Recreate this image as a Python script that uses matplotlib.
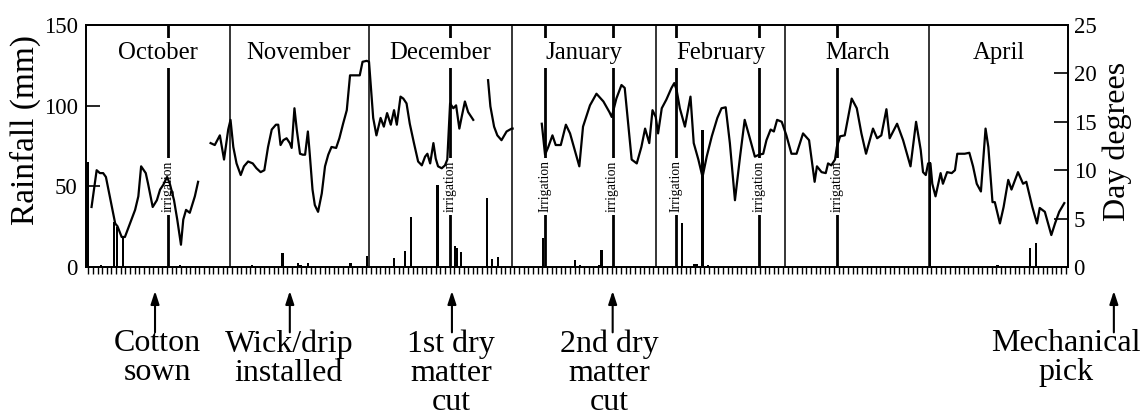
import numpy as np
import matplotlib
matplotlib.use('Agg')
import matplotlib.pyplot as plt
from matplotlib.transforms import blended_transform_factory

# ---------------- data ----------------
month_names = ['October', 'November', 'December', 'January', 'February', 'March', 'April']
month_edges = [0, 31, 61, 92, 123, 151, 182, 212]   # day number of month starts (Oct 1 = 0)

# daily rainfall (mm)
rain_day = [0.3, 3.2, 6.0, 6.7, 8.0, 20.3, 35.8, 42.4, 45.7, 46.3, 48.0, 57.1, 60.7,
            66.5, 68.9, 70.1, 75.9, 79.6, 80.1, 80.9, 86.6, 87.7, 88.9,
            98.6, 105.5, 106.6, 110.8, 111.3, 128.6, 131.3, 131.8, 133.1, 134.3,
            182.2, 196.8, 203.8, 205.1]
rain_mm = [65, 1.5, 28, 25, 18.8, 1.5, 1.2, 8.5, 2.7, 1.2, 2.7, 2.7, 6.8,
           5.4, 10.1, 31.2, 50.8, 13, 11.6, 9.5, 42.6, 4.7, 6.4,
           17.8, 4.3, 1.5, 1.0, 10.5, 27, 2, 2, 85, 1,
           65, 1, 11.6, 15]

# day degrees (NaN = missing record)
dd_day = [1.2, 2.3, 3.0, 3.7, 4.3, 6.3, 6.8, 7.7, 8.4, 9.5, 10.6, 11.3, 11.9, 12.9, 13.4,
          14.4, 15.3, 16.0, 16.7, 17.5, 18.1, 19.0, 19.7, 20.5, 21.0, 21.6, 22.4, 23.5, 24.2,
          25.5,
          26.9, 27.8, 28.9, 29.8, 30.7, 31.2, 31.8, 32.5, 33.4, 34.1, 35.0, 36.0, 36.8, 37.7,
          38.5, 39.3, 40.1, 41.0, 41.5, 42.0, 42.6, 43.3, 44.0, 44.4, 45.0, 45.5, 46.2, 46.8,
          47.3, 47.9, 48.3, 48.9, 49.4, 50.1, 50.9, 51.6, 52.3, 53.0, 54.0, 54.7, 55.5, 56.3,
          57.0, 58.1, 59.1, 59.7, 60.6, 61.1, 62.0, 62.7, 63.6, 64.3, 65.0, 65.8, 66.5, 67.1,
          67.9, 68.5, 69.2, 69.9, 70.8, 71.7, 72.5, 73.2, 73.7, 74.3, 75.0, 75.5, 76.0, 76.8,
          77.5, 78.0, 78.6, 79.3, 79.9, 80.6, 81.1, 81.8, 82.5, 83.6,
          85.0,
          86.8, 87.3, 88.1, 88.8, 89.7, 90.8, 91.9, 92.1,
          95.0,
          98.4, 99.1, 99.8, 100.7, 101.4, 102.5, 103.6, 104.5, 105.5, 106.5, 107.3, 108.8,
          110.2, 111.7, 113.0, 113.5, 114.5, 115.6, 116.3, 117.1, 117.8, 118.9, 119.9, 120.7,
          121.6, 122.3, 123.0, 123.5, 124.3, 125.3, 126.4, 127.0, 127.5, 128.2, 129.3, 130.5,
          131.2, 132.2, 133.1, 134.0, 135.1, 136.3, 137.2, 138.1, 139.0, 140.1, 141.2, 142.2,
          143.2, 144.4, 145.3, 146.2, 146.9, 147.8, 148.5, 149.2, 150.2, 151.2, 152.3, 153.4,
          154.8, 156.1, 157.3, 157.8, 158.8, 159.7, 160.2, 160.9, 161.7, 162.1, 162.8, 163.8,
          165.3, 166.4, 167.4, 168.4, 169.9, 170.8, 171.7, 172.8, 173.5, 175.1, 176.4, 178.0,
          179.2, 180.2, 180.7, 181.3, 181.8, 182.3, 182.7, 183.4, 184.5, 185.0, 185.9, 186.9,
          187.6, 188.1, 189.0, 189.7, 190.7, 191.5, 192.3, 193.2, 194.2, 194.8, 195.7, 196.2,
          197.3, 198.1, 199.1, 199.8, 201.2, 202.3, 203.0, 204.3, 205.3, 205.9, 207.0, 207.7,
          208.4, 209.2, 210.1, 211.2]
dd_val = [6.2, 10.0, 9.7, 9.7, 9.3, 4.5, 4.2, 3.1, 3.1, 4.5, 5.9, 7.3, 10.4, 9.7, 8.6,
          6.2, 6.9, 8.0, 8.5, 9.3, 8.6, 6.9, 4.9, 2.3, 4.9, 5.9, 5.6, 7.3, 8.8,
          np.nan,
          12.8, 12.6, 13.6, 11.1, 14.2, 15.2, 12.4, 10.7, 9.5, 10.4, 10.9, 10.7, 10.2, 9.8,
          10.0, 12.4, 14.2, 14.7, 14.7, 12.6, 13.1, 13.3, 12.8, 12.3, 16.4, 14.2, 11.7, 11.6,
          11.6, 14.0, 11.7, 8.0, 6.4, 5.7, 7.6, 10.4, 11.6, 12.4, 12.3, 13.3, 14.8, 16.2,
          19.8, 19.8, 19.8, 21.2, 21.3, 21.2, 15.4, 13.6, 15.4, 14.5, 15.9, 14.7, 16.2, 14.7,
          17.6, 17.4, 16.9, 14.8, 12.8, 10.9, 10.5, 11.4, 11.7, 10.7, 12.8, 11.2, 10.4, 10.2,
          10.5, 11.1, 16.9, 16.4, 16.7, 14.3, 15.5, 17.1, 16.0, 15.2,
          np.nan,
          19.3, 16.6, 14.5, 13.6, 13.1, 14.0, 14.3, 14.3,
          np.nan,
          14.8, 11.6, 12.4, 13.6, 12.6, 12.6, 14.7, 13.8, 12.1, 10.4, 14.5, 16.7,
          17.9, 17.1, 16.0, 15.5, 17.4, 18.8, 18.5, 14.5, 11.1, 10.7, 12.4, 14.3,
          12.8, 16.2, 15.5, 13.8, 16.4, 17.3, 18.5, 19.0, 18.3, 16.4, 14.5, 17.6,
          12.8, 11.1, 9.3, 11.4, 13.5, 15.4, 16.4, 16.5, 12.8, 6.9, 11.4, 15.2,
          13.5, 11.4, 11.6, 11.7, 13.1, 14.2, 14.0, 15.2, 15.0, 13.6, 11.7, 11.7,
          13.8, 13.1, 8.8, 10.4, 9.8, 9.7, 10.7, 10.5, 11.1, 12.4, 13.5, 13.6,
          17.4, 16.4, 13.8, 11.7, 14.3, 13.3, 13.6, 16.3, 13.3, 14.8, 13.1, 10.4,
          15.0, 12.1, 9.8, 9.5, 10.7, 10.7, 8.6, 7.3, 9.7, 8.6, 9.8, 9.7,
          10.0, 11.7, 11.7, 11.7, 11.8, 10.4, 8.6, 7.8, 14.3, 12.4, 6.7, 6.7,
          4.5, 6.2, 9.0, 8.0, 9.8, 8.6, 8.8, 6.2, 4.5, 6.1, 5.7, 4.5,
          3.3, 4.5, 5.7, 6.6]

irr_day = [17.7, 78.6, 99.1, 113.7, 127.3, 145.3, 162.1]
irr_label = ['irrigation', 'irrigation', 'Irrigation', 'irrigation',
             'Irrigation', 'irrigation', 'irrigation']

ann_text = ['Cotton\nsown', 'Wick/drip\ninstalled', '1st dry\nmatter\ncut',
            '2nd dry\nmatter\ncut', 'Mechanical\npick']
ann_text_day = [15.5, 43.8, 78.8, 112.9, 211.5]
ann_arrow_day = [14.9, 44.0, 79.0, 113.7, 221.9]

# ---------------- plot ----------------
plt.rcParams['font.family'] = ['Liberation Serif', 'DejaVu Serif']

W, H = 1147, 417
fig = plt.figure(figsize=(W / 100, H / 100), dpi=100)
ax = fig.add_axes([86 / W, 1 - 267 / H, 982 / W, 242 / H])
ax2 = ax.twinx()

ax.set_xlim(month_edges[0], month_edges[-1])
ax.set_ylim(0, 150)
ax2.set_ylim(0, 25)

trans = blended_transform_factory(ax.transData, ax.transAxes)

# rainfall bars
ax.bar(rain_day, rain_mm, width=0.5, color='black', zorder=3)

# month separators
for d in month_edges[1:-1]:
    ax.axvline(d, color='black', lw=1.1, zorder=2)

# irrigation lines
for d, lab in zip(irr_day, irr_label):
    ax.axvline(d, color='black', lw=2.0, zorder=2)
    ax.text(d, 50, lab, rotation=90, ha='center', va='center', fontsize=9.8,
            bbox=dict(facecolor='white', edgecolor='none', pad=2.0), zorder=5)

# day degree line
ax2.plot(dd_day, dd_val, color='black', lw=1.6, zorder=3)

# month labels
for i, name in enumerate(month_names):
    c = 0.5 * (month_edges[i] + month_edges[i + 1])
    ax2.text(c, 0.884, name, transform=trans, ha='center', va='center', fontsize=17.8,
             bbox=dict(facecolor='white', edgecolor='none', pad=3.0), zorder=6)

# axes styling
for a in (ax, ax2):
    for s in a.spines.values():
        s.set_linewidth(1.3)

ax.set_yticks([0, 50, 100, 150])
ax.tick_params(axis='y', direction='in', length=10, width=1.2, labelsize=16.5, pad=6)
ax2.set_yticks([0, 5, 10, 15, 20, 25])
ax2.tick_params(axis='y', direction='in', length=10, width=1.2, labelsize=16.5, pad=4)

ax.set_xticks(np.arange(0.5, month_edges[-1], 1.0))
ax.tick_params(axis='x', direction='out', length=5, width=1.0, labelbottom=False)

ax.set_ylabel('Rainfall (mm)', fontsize=24)
ax.yaxis.set_label_coords(-0.046, 0.566)
ax2.set_ylabel('Day degrees', fontsize=23)
ax2.yaxis.set_label_coords(1.035, 0.517)

# event annotations
for txt, td, adx in zip(ann_text, ann_text_day, ann_arrow_day):
    ax.text(td, -0.258, txt, transform=trans, ha='center', va='top', fontsize=23,
            linespacing=1.0, clip_on=False)
    ax.annotate('', xy=(adx, -0.099), xytext=(adx, -0.27), xycoords=trans,
                textcoords=trans, annotation_clip=False,
                arrowprops=dict(arrowstyle='-|>,head_length=0.55,head_width=0.18',
                                mutation_scale=14, lw=1.5, color='black',
                                shrinkA=0, shrinkB=0))

fig.savefig('out.png', dpi=100)
